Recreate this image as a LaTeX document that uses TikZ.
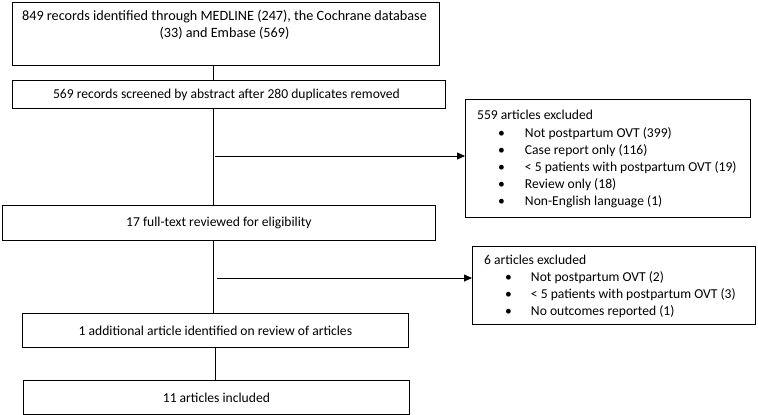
\documentclass[tikz,border=0pt]{standalone}
\usepackage{fontspec}
\setmainfont{Carlito}
\usetikzlibrary{arrows.meta,calc}
\begin{document}
\begin{tikzpicture}[x=1pt,y=-1pt,
  box/.style={draw=black,line width=0.8pt,rectangle,inner sep=0pt,anchor=north west,font=\fontsize{13.6}{16}\selectfont},
  txt/.style={inner sep=0pt,font=\fontsize{13.6}{16}\selectfont},
  conn/.style={line width=0.8pt},
  arr/.style={line width=0.8pt,-{Triangle[length=8pt,width=7pt]}}]
\useasboundingbox (0,0) rectangle (758,415);
% main boxes
\node[box,minimum width=427pt,minimum height=63pt] (b1) at (12,2) {};
\node[txt,align=center,font=\fontsize{14.2}{17}\selectfont] (b1t) at (224.5,25) {849 records identified through MEDLINE (247), the Cochrane database\\(33) and Embase (569)};
\node[box,minimum width=433pt,minimum height=28pt] (b2) at (12,80) {\hspace{-5pt}569 records screened by abstract after 280 duplicates removed};
\node[box,minimum width=433pt,minimum height=35pt] (b3) at (2,205) {17 full-text reviewed for eligibility};
\node[box,minimum width=386pt,minimum height=34pt] (b4) at (22,313) {1 additional article identified on review of articles};
\node[box,minimum width=386pt,minimum height=34pt] (b5) at (23,380) {11 articles included};
% exclusion boxes
\node[box,minimum width=285pt,minimum height=118pt] (e1) at (465,99) {};
\node[txt,anchor=north west,align=left,font=\fontsize{13.6}{17}\selectfont] (e1t) at (477,109.5) {559 articles excluded\\[1.5pt]
\hspace{21pt}\textbullet\hspace{20pt}Not postpartum OVT (399)\\
\hspace{21pt}\textbullet\hspace{20pt}Case report only (116)\\
\hspace{21pt}\textbullet\hspace{20pt}< 5 patients with postpartum OVT (19)\\
\hspace{21pt}\textbullet\hspace{20pt}Review only (18)\\
\hspace{21pt}\textbullet\hspace{20pt}Non-English language (1)};
\node[box,minimum width=283pt,minimum height=78pt] (e2) at (472,246) {};
\node[txt,anchor=north west,align=left,font=\fontsize{13.6}{17}\selectfont] (e2t) at (484,255) {6 articles excluded\\[-0.5pt]
\hspace{21pt}\textbullet\hspace{19pt}Not postpartum OVT (2)\\
\hspace{21pt}\textbullet\hspace{19pt}< 5 patients with postpartum OVT (3)\\
\hspace{21pt}\textbullet\hspace{19pt}No outcomes reported (1)};
% connectors
\coordinate (c2) at (213,108);
\coordinate (c3) at (213,240);
\coordinate (c4) at (215,347);
\draw[conn] (c2 |- b1.south) -- (c2 |- b2.north);
\draw[conn] (c2) -- (c2 |- b3.north);
\draw[conn] (c3) -- (c3 |- b4.north);
\draw[conn] (c4) -- (c4 |- b5.north);
\coordinate (a1) at (215,156);
\coordinate (a2) at (217,278);
\draw[arr] (a1) -- (a1 -| e1.west);
\draw[arr] (a2) -- (a2 -| e2.west);
\end{tikzpicture}
\end{document}
